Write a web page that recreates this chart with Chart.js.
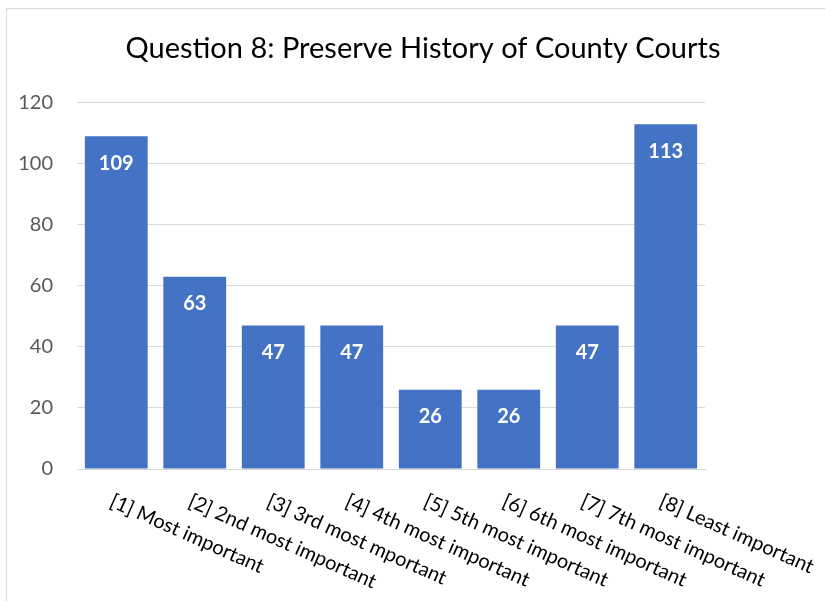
<!DOCTYPE html>
<html>
<head>
<meta charset="utf-8">
<script src="https://cdn.jsdelivr.net/npm/chart.js@4.4.1/dist/chart.umd.min.js"></script>
<style>
  html, body { margin: 0; padding: 0; background: #fff; overflow: hidden; }
  #wrap {
    position: absolute; left: 6px; top: 8px;
    width: 832px; height: 593px;
    border-left: 1px solid #d9d9d9; border-top: 1px solid #d9d9d9;
  }
</style>
</head>
<body>
<div id="wrap"><canvas id="myChart"></canvas></div>
<script>
const categories = [
  '[1] Most important',
  '[2] 2nd most important',
  '[3] 3rd most mportant',
  '[4] 4th most important',
  '[5] 5th most important',
  '[6] 6th most important',
  '[7] 7th most important',
  '[8] Least important'
];
const counts = [109, 63, 47, 47, 26, 26, 47, 113];
const yTicks = [0, 20, 40, 60, 80, 100, 120];

const FONT = 'Lato, "Open Sans", sans-serif';

// value labels inside the top of each bar
const barLabels = {
  id: 'barLabels',
  afterDatasetsDraw(chart) {
    const ctx = chart.ctx;
    const meta = chart.getDatasetMeta(0);
    ctx.save();
    ctx.fillStyle = '#ffffff';
    ctx.font = 'bold 20px ' + FONT;
    ctx.textAlign = 'center';
    ctx.textBaseline = 'middle';
    meta.data.forEach((bar, i) => {
      ctx.fillText(String(counts[i]), bar.x, bar.y + 27);
    });
    ctx.restore();
  }
};

// category labels slanted down to the right, starting at each tick
const slantLabels = {
  id: 'slantLabels',
  afterDraw(chart) {
    const ctx = chart.ctx;
    const xs = chart.scales.x;
    const base = chart.chartArea.bottom;
    ctx.save();
    ctx.fillStyle = '#000000';
    ctx.font = '20px ' + FONT;
    ctx.textAlign = 'left';
    ctx.textBaseline = 'top';
    categories.forEach((c, i) => {
      const x = xs.getPixelForTick(i);
      ctx.save();
      ctx.translate(x - 1, base + 22);
      ctx.rotate(24 * Math.PI / 180);
      ctx.fillText(c, 0, 0);
      ctx.restore();
    });
    ctx.restore();
  }
};

const ctx = document.getElementById('myChart').getContext('2d');
const chartInstance = new Chart(ctx, {
  type: 'bar',
  data: {
    labels: categories,
    datasets: [
      {
        label: 'Question 8',
        data: counts,
        backgroundColor: '#4472c4',
        borderWidth: 0,
        barPercentage: 1,
        categoryPercentage: 0.8,
      },
    ],
  },
  options: {
    responsive: true,
    maintainAspectRatio: false,
    animation: false,
    layout: { padding: 0 },
    plugins: {
      legend: { display: false },
      tooltip: { enabled: false },
      title: {
        display: true,
        text: 'Question 8: Preserve History of County Courts',
        color: '#000000',
        font: { family: FONT, size: 29, weight: 'normal', lineHeight: 1.2 },
        padding: { top: 22, bottom: 37 },
      },
    },
    scales: {
      x: {
        grid: { display: false },
        border: { display: true, color: '#d9d9d9', width: 1 },
        ticks: { display: false },
        afterFit: (s) => { s.height = 133; },
      },
      y: {
        min: 0,
        max: 120,
        afterBuildTicks: (s) => { s.ticks = yTicks.map(v => ({ value: v })); },
        grid: { color: '#d9d9d9', lineWidth: 1, drawTicks: false },
        border: { display: false },
        ticks: {
          padding: 24,
          color: '#595959',
          font: { family: FONT, size: 20 },
        },
        afterFit: (s) => { s.width = 70; },
      },
      // empty right-hand axis: keeps the plot narrow while the title stays centred on the frame
      yRight: {
        position: 'right',
        min: 0,
        max: 120,
        grid: { display: false },
        border: { display: false },
        ticks: { display: false },
        afterFit: (s) => { s.width = 134; },
      },
    },
  },
  plugins: [barLabels, slantLabels],
});
</script>
</body>
</html>
